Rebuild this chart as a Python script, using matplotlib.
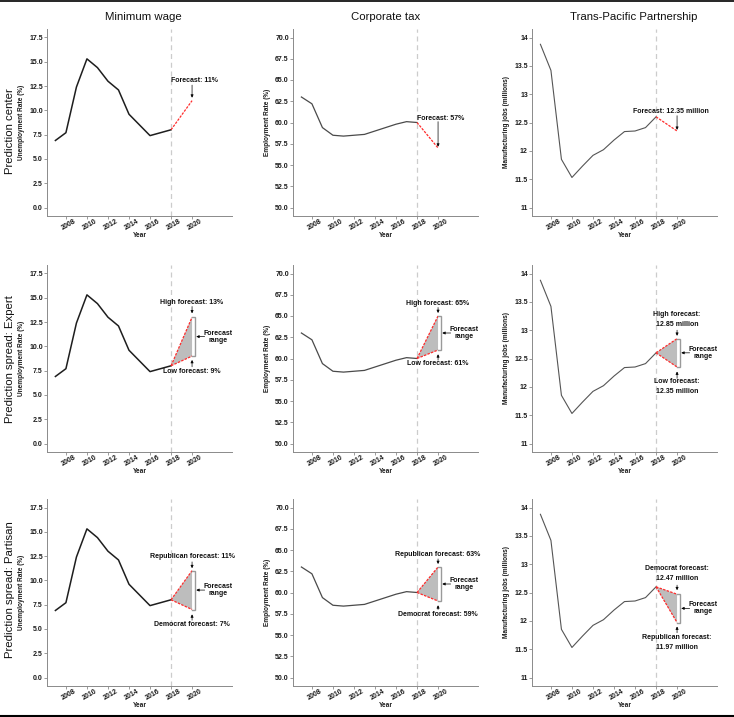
import matplotlib
matplotlib.use("Agg")
import matplotlib.pyplot as plt
import matplotlib.transforms as mtransforms
from matplotlib.lines import Line2D

plt.rcParams["font.family"] = ["Liberation Sans", "DejaVu Sans"]

# ---------------- data ----------------
mw_years = [2007, 2008, 2009, 2010, 2011, 2012, 2013, 2014, 2015, 2016, 2018]
mw_rate = [6.9, 7.7, 12.4, 15.3, 14.4, 13.0, 12.1, 9.6, 8.5, 7.4, 8.0]

ct_years = [2007, 2008, 2009, 2010, 2011, 2012, 2013, 2014, 2015, 2016, 2017, 2018]
ct_rate = [63.0, 62.2, 59.4, 58.5, 58.4, 58.5, 58.6, 59.0, 59.4, 59.8, 60.1, 60.0]

tpp_years = [2007, 2008, 2009, 2010, 2011, 2012, 2013, 2014, 2015, 2016, 2017, 2018]
tpp_jobs = [13.88, 13.42, 11.85, 11.53, 11.73, 11.92, 12.02, 12.19, 12.34, 12.35, 12.41, 12.60]

forecast_year = 2020
cut_year = 2018

mw_center = 11
ct_center = 57
tpp_center = 12.35
mw_expert = (13, 9)
ct_expert = (65, 61)
tpp_expert = (12.85, 12.35)
mw_partisan = (11, 7)
ct_partisan = (63, 59)
tpp_partisan = (12.47, 11.97)

col_titles = ["Minimum wage", "Corporate tax", "Trans-Pacific Partnership"]
row_titles = ["Prediction center", "Prediction spread: Expert", "Prediction spread: Partisan"]
y_labels = ["Unemployment Rate (%)", "Employment Rate (%)", "Manufacturing jobs (millions)"]
x_ticks = [2008, 2010, 2012, 2014, 2016, 2018, 2020]

# ---------------- layout (pixels) ----------------
W, H = 734, 717
DPI = 100
row_top = [29, 265, 499]
row_bot = [216, 452, 686]
col_left = [47, 293, 532]
col_right = [232, 478, 717]
title_x = [143, 386, 634]
row_label_y = [131, 359, 590]

ANN = 5.0      # annotation font size
TICK = 5.0
LAB = 4.7

fig = plt.figure(figsize=(W / DPI, H / DPI), dpi=DPI)


def make_axes(r, c):
    l, rr = col_left[c], col_right[c]
    t, b = row_top[r], row_bot[r]
    ax = fig.add_axes([l / W, 1 - b / H, (rr - l) / W, (b - t) / H])
    for s in ["top", "right"]:
        ax.spines[s].set_visible(False)
    for s in ["left", "bottom"]:
        ax.spines[s].set_color("#8a8a8a")
        ax.spines[s].set_linewidth(0.7)
    ax.tick_params(length=2, width=0.6, color="#8a8a8a", labelcolor="#1a1a1a",
                   labelsize=TICK, pad=1)
    ax.tick_params(axis="x", pad=-0.8)
    ax.set_xlim(2007 - 0.8, 2023 + 0.8)
    ax.set_xticks(x_ticks)
    offs = mtransforms.ScaledTranslation(3 / DPI, 0, fig.dpi_scale_trans)
    for lab in ax.get_xticklabels():
        lab.set_rotation(30)
        lab.set_ha("center")
        lab.set_fontweight("bold")
        lab.set_transform(lab.get_transform() + offs)
    ax.set_xlabel("Year", fontsize=LAB, fontweight="bold", color="#1a1a1a")
    ax.xaxis.set_label_coords(0.5, -0.088)
    ax.set_ylabel(y_labels[c], fontsize=LAB, fontweight="bold", color="#1a1a1a")
    ax.yaxis.set_label_coords(-0.118, 0.5)
    ax.axvline(cut_year, color="#cccccc", lw=0.9, ls=(0, (4, 3)), zorder=1)
    return ax


def set_y(ax, c):
    if c == 0:
        ax.set_ylim(-0.875, 18.375)
        ax.set_yticks([0, 2.5, 5, 7.5, 10, 12.5, 15, 17.5])
        ax.set_yticklabels(["%.1f" % v for v in ax.get_yticks()], fontweight="bold")
    elif c == 1:
        ax.set_ylim(49.0, 71.0)
        ax.set_yticks([50, 52.5, 55, 57.5, 60, 62.5, 65, 67.5, 70])
        ax.set_yticklabels(["%.1f" % v for v in ax.get_yticks()], fontweight="bold")
    else:
        ax.set_ylim(10.85, 14.15)
        ax.set_yticks([11, 11.5, 12, 12.5, 13, 13.5, 14])
        ax.set_yticklabels(["%g" % v for v in ax.get_yticks()], fontweight="bold")


def arrow(ax, x, y0, y1):
    ax.annotate("", xy=(x, y1), xytext=(x, y0),
                arrowprops=dict(arrowstyle="-|>", color="black", lw=0.5,
                                mutation_scale=4, shrinkA=0, shrinkB=0))


series = [(mw_years, mw_rate, "#1e1e1e", 1.1),
          (ct_years, ct_rate, "#4a4a4a", 0.9),
          (tpp_years, tpp_jobs, "#555555", 0.8)]
centers = [mw_center, ct_center, tpp_center]
experts = [mw_expert, ct_expert, tpp_expert]
partisans = [mw_partisan, ct_partisan, tpp_partisan]

# row 1 text placement: (text x, text y, arrow start, arrow end)
center_ann = [(2020.2, 13.05, 12.6, 11.3),
              (2020.2, 60.5, 60.1, 57.15),
              (2019.4, 12.69, 12.62, 12.37)]

# spread rows: (hi text y, hi arrow y0, y1, lo text y, lo arrow y0, y1)
expert_ann = [(14.53, 14.1, 13.4, 7.4, 7.9, 8.6),
              (66.5, 66.0, 65.35, 59.4, 59.8, 60.5),
              (13.19, 13.0, 12.9, 12.0, 12.15, 12.27)]
partisan_ann = [(12.44, 11.9, 11.25, 5.47, 5.9, 6.5),
                (64.5, 63.95, 63.35, 57.45, 58.0, 58.5),
                (12.83, 12.63, 12.54, 11.62, 11.79, 11.9)]

expert_txt = [("High forecast: 13%", "Low forecast: 9%"),
              ("High forecast: 65%", "Low forecast: 61%"),
              ("High forecast:\n12.85 million", "Low forecast:\n12.35 million")]
partisan_txt = [("Republican forecast: 11%", "Democrat forecast: 7%"),
                ("Republican forecast: 63%", "Democrat forecast: 59%"),
                ("Democrat forecast:\n12.47 million", "Republican forecast:\n11.97 million")]
center_txt = ["Forecast: 11%", "Forecast: 57%", "Forecast: 12.35 million"]

for r in range(3):
    for c in range(3):
        ax = make_axes(r, c)
        set_y(ax, c)
        xs, ys, col, lw = series[c]
        ax.plot(xs, ys, color=col, lw=lw, zorder=3)
        last = ys[-1]
        if r == 0:
            ax.plot([cut_year, forecast_year], [last, centers[c]], color="#ff2a2a",
                    lw=0.9, ls=(0, (2, 1)), zorder=3)
            tx, ty, a0, a1 = center_ann[c]
            ax.text(tx, ty, center_txt[c], fontsize=ANN, fontweight="bold",
                    ha="center", va="center", color="#111111")
            arrow(ax, forecast_year, a0, a1)
        else:
            hi, lo = experts[c] if r == 1 else partisans[c]
            ann = expert_ann[c] if r == 1 else partisan_ann[c]
            txt = expert_txt[c] if r == 1 else partisan_txt[c]
            ax.fill([cut_year, forecast_year, forecast_year], [last, hi, lo],
                    color="#bdbdbd", lw=0, zorder=2)
            ax.plot([cut_year, forecast_year], [last, hi], color="#ff2a2a",
                    lw=0.9, ls=(0, (2, 1)), zorder=3)
            ax.plot([cut_year, forecast_year], [last, lo], color="#ff2a2a",
                    lw=0.9, ls=(0, (2, 1)), zorder=3)
            # bracket
            bx = forecast_year + 0.25
            ax.plot([forecast_year + 0.02, bx, bx, forecast_year + 0.02], [hi, hi, lo, lo],
                    color="#9a9a9a", lw=1.0, zorder=3, solid_joinstyle="miter")
            ax.text(forecast_year, ann[0], txt[0], fontsize=ANN, fontweight="bold",
                    ha="center", va="center", color="#111111", linespacing=1.6)
            arrow(ax, forecast_year, ann[1], ann[2])
            ax.text(forecast_year, ann[3], txt[1], fontsize=ANN, fontweight="bold",
                    ha="center", va="center", color="#111111", linespacing=1.6)
            arrow(ax, forecast_year, ann[4], ann[5])
            mid = (hi + lo) / 2
            ax.text(2022.45, mid, "Forecast\nrange", fontsize=ANN, fontweight="bold",
                    ha="center", va="center", color="#111111", linespacing=1.0)
            ax.annotate("", xy=(bx + 0.15, mid), xytext=(2021.2, mid),
                        arrowprops=dict(arrowstyle="-|>", color="black", lw=0.5,
                                        mutation_scale=4, shrinkA=0, shrinkB=0))

for c in range(3):
    fig.text(title_x[c] / W, 1 - 17.5 / H, col_titles[c], fontsize=8.2,
             ha="center", va="center", color="#111111")
for r in range(3):
    fig.text(10 / W, 1 - row_label_y[r] / H, row_titles[r], fontsize=8.2,
             rotation=90, ha="center", va="center", color="#111111")

fig.add_artist(Line2D([0, 1], [1 - 0.8 / H] * 2, color="black", lw=1.2,
                      transform=fig.transFigure))
fig.add_artist(Line2D([0, 1], [1 - 716 / H] * 2, color="black", lw=1.5,
                      transform=fig.transFigure))

fig.savefig("out.png", dpi=DPI)
